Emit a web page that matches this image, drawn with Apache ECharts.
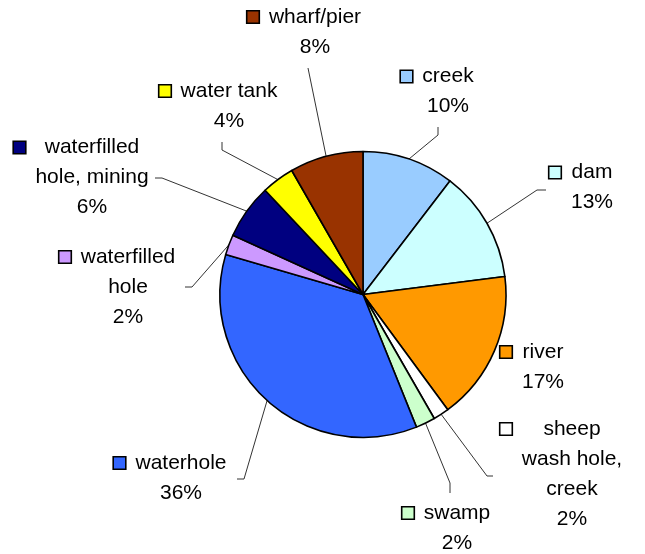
<!DOCTYPE html>
<html>
<head>
<meta charset="utf-8">
<script src="https://cdn.jsdelivr.net/npm/echarts@6/dist/echarts.min.js"></script>
<style>
html,body{margin:0;padding:0;background:#fff;}
#c{width:645px;height:554px;}
</style>
</head>
<body>
<div id="c"></div>
<script>
// ---- data ----
const categories = ['creek', 'dam', 'river', 'sheep wash hole, creek', 'swamp', 'waterhole',
  'waterfilled hole', 'waterfilled hole, mining', 'water tank', 'wharf/pier'];
const shares = [10.4, 12.6, 16.9, 1.8, 2.2, 35.6, 2.3, 6.2, 3.7, 8.3];
const colors = ['#99CCFF', '#CCFFFF', '#FF9900', '#FFFFFF', '#CCFFCC', '#3366FF',
  '#CC99FF', '#000080', '#FFFF00', '#993300'];
const labelLines = [['creek'], ['dam'], ['river'], ['sheep', 'wash hole,', 'creek'], ['swamp'],
  ['waterhole'], ['waterfilled', 'hole'], ['waterfilled', 'hole, mining'], ['water tank'], ['wharf/pier']];

// ---- style: label text centres and leader-line bends ----
const labelPos = [[448, 91.5], [592, 187.5], [543, 367], [572, 474], [457, 528], [181, 478],
  [128, 287], [92, 177.5], [229, 106], [315, 32]];
const leaderBends = [[[438, 135], [438, 127]], [[537, 190], [546, 190]], null, [[487, 476], [493, 476]],
  [[450, 483], [450, 493]], [[244, 479], [237, 479]], [[192, 287], [185, 287]], [[162, 178], [155, 178]],
  [[222, 150], [222, 142]], [[308, 68], [308, 68]]];

const FONT = '"Liberation Sans", Arial, sans-serif';
const FS = 21, LH = 30;
const ctx = document.createElement('canvas').getContext('2d');
ctx.font = FS + 'px ' + FONT;
const measure = s => ctx.measureText(s).width;

const data = categories.map((name, i) => {
  const W = Math.ceil(Math.max(...labelLines[i].map(measure), measure('36%'))) + 2;
  const item = {
    name: name,
    value: shares[i],
    itemStyle: { color: colors[i] },
    label: {
      width: W + 20,
      rich: {
        k: { width: 11, height: 11, backgroundColor: colors[i], borderColor: '#000', borderWidth: 1.6, lineHeight: LH },
        g: { width: 9, lineHeight: LH },
        s: { width: 20, lineHeight: LH },
        t: { width: W, align: 'center', fontSize: FS, fontFamily: FONT, color: '#000', lineHeight: LH }
      }
    }
  };
  if (!leaderBends[i]) item.labelLine = { show: false };
  return item;
});

const chart = echarts.init(document.getElementById('c'), null, { renderer: 'canvas' });
chart.setOption({
  animation: false,
  backgroundColor: '#fff',
  series: [{
    type: 'pie',
    center: [363, 294.5],
    radius: 143,
    startAngle: 90,
    clockwise: true,
    avoidLabelOverlap: false,
    percentPrecision: 0,
    data: data,
    itemStyle: { borderColor: '#000', borderWidth: 1.6 },
    emphasis: { disabled: true },
    label: {
      show: true,
      position: 'outside',
      fontFamily: FONT,
      fontSize: FS,
      lineHeight: LH,
      color: '#000',
      formatter: function (p) {
        const lines = labelLines[p.dataIndex].concat([Math.round(p.percent) + '%']);
        return lines.map((l, j) => (j === 0 ? '{k|}{g|}' : '{s|}') + '{t|' + l + '}').join('\n');
      }
    },
    labelLine: { show: true, length: 10, length2: 10, lineStyle: { color: '#333', width: 1 } },
    labelLayout: function (p) {
      const i = p.dataIndex;
      const out = { x: labelPos[i][0] - 10, y: labelPos[i][1], align: 'center', verticalAlign: 'middle' };
      if (leaderBends[i] && p.labelLinePoints && p.labelLinePoints[0]) {
        out.labelLinePoints = [p.labelLinePoints[0], leaderBends[i][0], leaderBends[i][1]];
      }
      return out;
    }
  }]
});
</script>
</body>
</html>
